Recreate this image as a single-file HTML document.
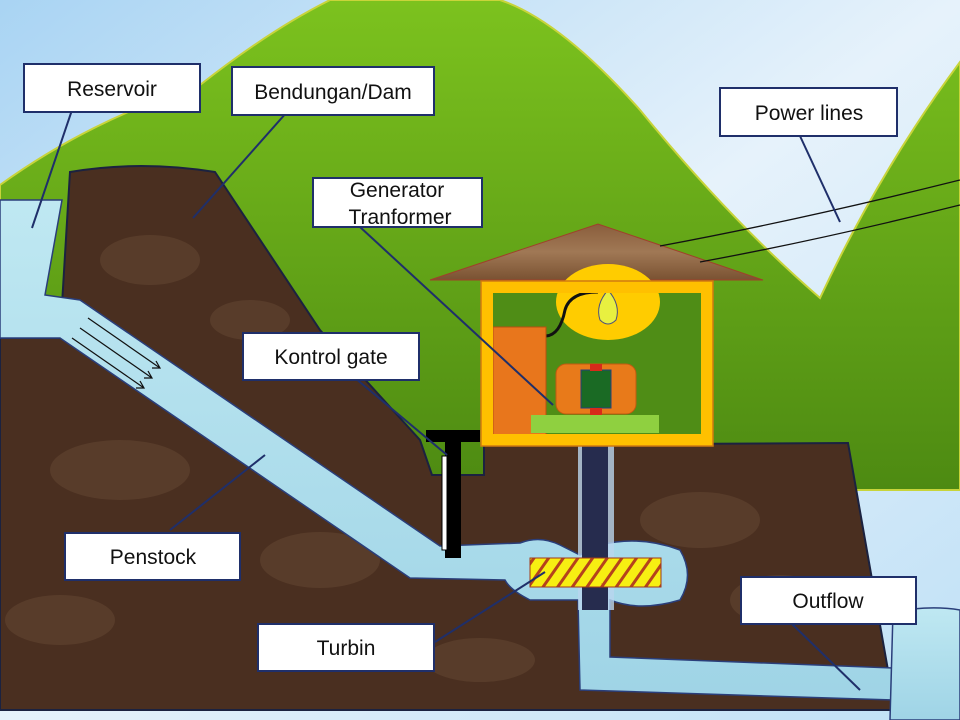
<!DOCTYPE html>
<html><head><meta charset="utf-8"><style>
html,body{margin:0;padding:0;width:960px;height:720px;overflow:hidden;background:#cfe6f7}
svg{display:block}
text{font-family:"Liberation Sans",sans-serif;font-size:21px;fill:#111}
</style></head><body>
<svg width="960" height="720" viewBox="0 0 960 720" xmlns="http://www.w3.org/2000/svg">
<defs>
<linearGradient id="sky" x1="0" y1="0" x2="1" y2="1"><stop offset="0" stop-color="#a9d4f3"/><stop offset="0.5" stop-color="#e6f2fb"/><stop offset="1" stop-color="#bfe0f6"/></linearGradient>
<linearGradient id="grn" x1="0" y1="0" x2="0" y2="1"><stop offset="0" stop-color="#7cc21e"/><stop offset="1" stop-color="#4d8a12"/></linearGradient>
<linearGradient id="wat" x1="0" y1="0" x2="0" y2="1"><stop offset="0" stop-color="#bfe8f2"/><stop offset="1" stop-color="#9fd4e6"/></linearGradient>
<linearGradient id="roof" x1="0" y1="0" x2="0" y2="1"><stop offset="0" stop-color="#8a5e3c"/><stop offset="0.5" stop-color="#a07855"/><stop offset="1" stop-color="#7a5232"/></linearGradient>
<pattern id="hatch" width="12" height="12" patternUnits="userSpaceOnUse" patternTransform="rotate(35)"><rect width="12" height="12" fill="#f7ef12"/><rect width="3" height="12" fill="#b5421c"/></pattern>
</defs>
<rect width="960" height="720" fill="url(#sky)"/>
<path d="M0,185 Q90,120 200,85 Q270,30 330,0 L500,0 Q560,20 640,110 Q730,220 820,298 Q880,170 960,62 L960,490 L0,490 Z" fill="url(#grn)" stroke="#c8d43a" stroke-width="2"/>
<path d="M0,338 L60,338 L70,172 Q140,160 215,172 L320,330 L420,440 L432,475 L484,475 L484,445 L848,443 L895,710 L0,710 Z" fill="#4a2f20" stroke="#1b2240" stroke-width="2"/>
<g opacity="0.18" fill="#9a7a5a">
<ellipse cx="150" cy="260" rx="50" ry="25"/><ellipse cx="250" cy="320" rx="40" ry="20"/><ellipse cx="120" cy="470" rx="70" ry="30"/><ellipse cx="320" cy="560" rx="60" ry="28"/><ellipse cx="700" cy="520" rx="60" ry="28"/><ellipse cx="780" cy="600" rx="50" ry="25"/><ellipse cx="60" cy="620" rx="55" ry="25"/><ellipse cx="480" cy="660" rx="55" ry="22"/>
</g>
<g fill="url(#wat)" stroke="#2a3e7a" stroke-width="1.5">
<path d="M0,200 L62,200 L45,295 L80,300 L440,546 L520,543 Q540,535 560,545 L580,555 L600,545 Q640,535 680,550 Q695,575 680,600 Q640,612 610,600 L610,657 L893,668 L893,700 L580,690 L578,600 L530,600 Q510,590 505,580 L410,578 L60,338 L0,338 Z"/>
<path d="M893,612 Q930,605 960,610 L960,720 L890,720 Z"/>
</g>
<g stroke="#111" stroke-width="1.2" fill="none">
<path d="M88,318 L160,368 M152,368 L160,368 L156,361"/>
<path d="M80,328 L152,378 M144,378 L152,378 L148,371"/>
<path d="M72,338 L144,388 M136,388 L144,388 L140,381"/>
</g>
<rect x="578" y="440" width="36" height="170" fill="#b9d6ee" opacity="0.8"/>
<rect x="582" y="415" width="26" height="195" fill="#262c4e"/>
<rect x="530" y="558" width="131" height="29" fill="url(#hatch)" stroke="#a03a1a"/>
<rect x="426" y="430" width="54" height="12" fill="#000"/>
<rect x="445" y="442" width="16" height="116" fill="#000"/>
<rect x="442" y="456" width="5" height="94" fill="#fff" stroke="#000"/>
<polygon points="430,280 598,224 763,280" fill="url(#roof)" stroke="#a0402a"/>
<rect x="488" y="288" width="218" height="151" fill="#4f8d16"/>
<ellipse cx="608" cy="302" rx="52" ry="38" fill="#ffcc00"/>
<path d="M608,290 Q595,305 600,320 Q608,328 616,320 Q621,305 608,290Z" fill="#e8f040" stroke="#4a5080"/>
<path d="M546,336 Q560,335 565,310 Q570,292 598,292" stroke="#111" stroke-width="3" fill="none"/>
<rect x="493" y="327" width="53" height="108" fill="#e8761c" stroke="#b85010"/>
<rect x="531" y="415" width="128" height="18" fill="#8fd040"/>
<rect x="556" y="364" width="80" height="50" rx="10" fill="#e87a1a" stroke="#c05a10"/>
<rect x="581" y="370" width="30" height="38" fill="#1a6a24" stroke="#2a3e7a"/>
<rect x="590" y="364" width="12" height="7" fill="#d82a1a"/><rect x="590" y="408" width="12" height="7" fill="#d82a1a"/>
<rect x="487" y="287" width="220" height="153" fill="none" stroke="#ffc000" stroke-width="12"/>
<rect x="481" y="281" width="232" height="165" fill="none" stroke="#d07a10" stroke-width="1.5"/>
<path d="M660,246 Q800,220 960,180 M700,262 Q820,240 960,205" stroke="#111" stroke-width="1.3" fill="none"/>
<g stroke="#1f2f6a" stroke-width="2">
<line x1="72" y1="110" x2="32" y2="228"/><line x1="287" y1="112" x2="193" y2="218"/><line x1="800" y1="136" x2="840" y2="222"/>
<line x1="360" y1="227" x2="553" y2="405"/><line x1="355" y1="378" x2="447" y2="455"/><line x1="170" y1="530" x2="265" y2="455"/>
<line x1="435" y1="642" x2="545" y2="572"/><line x1="790" y1="622" x2="860" y2="690"/>
</g>
<g fill="#fff" stroke="#1f2f6a" stroke-width="2">
<rect x="24" y="64" width="176" height="48"/><rect x="232" y="67" width="202" height="48"/><rect x="720" y="88" width="177" height="48"/>
<rect x="313" y="178" width="169" height="49"/><rect x="243" y="333" width="176" height="47"/><rect x="65" y="533" width="175" height="47"/>
<rect x="258" y="624" width="176" height="47"/><rect x="741" y="577" width="175" height="47"/>
</g>
<g text-anchor="middle">
<text x="112" y="96">Reservoir</text><text x="333" y="99">Bendungan/Dam</text><text x="809" y="120">Power lines</text>
<text x="397" y="197">Generator</text><text x="400" y="224">Tranformer</text>
<text x="331" y="364">Kontrol gate</text><text x="153" y="564">Penstock</text><text x="346" y="655">Turbin</text><text x="828" y="608">Outflow</text>
</g>
</svg>
</body></html>
